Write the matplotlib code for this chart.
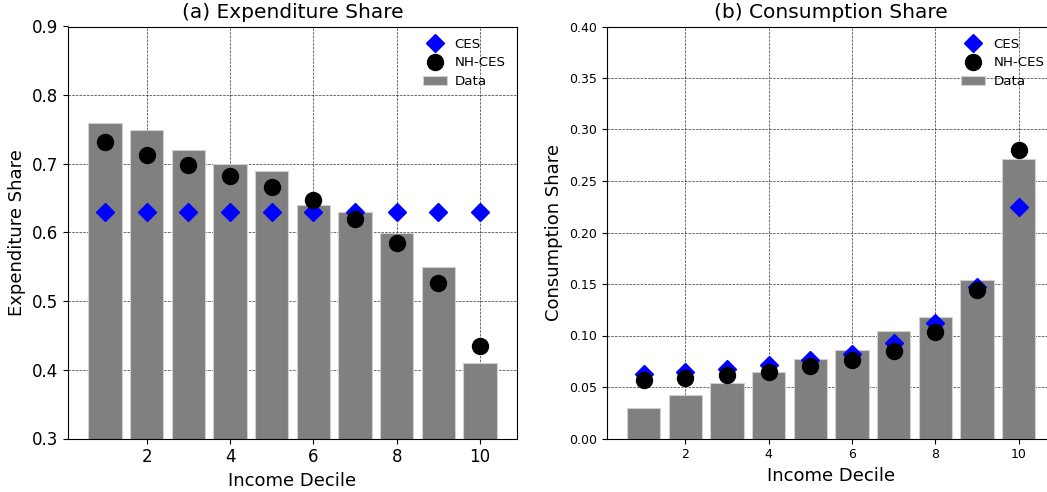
import matplotlib
matplotlib.use("Agg")
import matplotlib.pyplot as plt
import numpy as np

deciles = [1, 2, 3, 4, 5, 6, 7, 8, 9, 10]

# (a) Expenditure share
exp_data = [0.76, 0.75, 0.72, 0.70, 0.69, 0.64, 0.63, 0.60, 0.55, 0.41]
exp_ces = [0.63, 0.63, 0.63, 0.63, 0.63, 0.63, 0.63, 0.63, 0.63, 0.63]
exp_nhces = [0.732, 0.713, 0.698, 0.683, 0.666, 0.647, 0.620, 0.584, 0.527, 0.435]

# (b) Consumption share
cons_data = [0.030, 0.042, 0.054, 0.065, 0.077, 0.086, 0.104, 0.118, 0.154, 0.271]
cons_ces = [0.063, 0.065, 0.067, 0.071, 0.076, 0.082, 0.093, 0.112, 0.147, 0.225]
cons_nhces = [0.057, 0.059, 0.062, 0.065, 0.070, 0.076, 0.085, 0.103, 0.144, 0.280]

fig = plt.figure(figsize=(10.47, 4.92), dpi=100)
W, H = 1047, 492
axL = fig.add_axes([68/W, (H-438.5)/H, 449/W, 412/H])
axR = fig.add_axes([606.7/W, (H-438.5)/H, 449/W, 412/H])

def draw(ax, data, ces, nh, tick_fs, legend_fs):
    ax.set_axisbelow(True)
    ax.grid(True, color='k', linestyle='--', linewidth=0.5, alpha=0.8)
    ax.bar(deciles, data, width=0.8, color='#808080', edgecolor='#d0d0d0',
           linewidth=0.8, label='Data', zorder=2)
    ax.plot(deciles, ces, linestyle='none', marker='D', color='blue',
            markersize=9.5, label='CES', zorder=3)
    ax.plot(deciles, nh, linestyle='none', marker='o', color='black',
            markersize=11.5, label='NH-CES', zorder=4)
    ax.set_xticks([2, 4, 6, 8, 10])
    ax.tick_params(labelsize=tick_fs)
    ax.set_xlabel('Income Decile', fontsize=13)
    ax.legend(loc='upper right', frameon=False, fontsize=legend_fs,
              labelspacing=0.42, handlelength=1.8, handletextpad=0.6,
              borderaxespad=0.45)

draw(axL, exp_data, exp_ces, exp_nhces, 12, 9.6)
axL.set_ylim(0.3, 0.9)
axL.set_title('(a) Expenditure Share', fontsize=14.5)
axL.set_ylabel('Expenditure Share', fontsize=13)

draw(axR, cons_data, cons_ces, cons_nhces, 9, 9.6)
axR.set_ylim(0.0, 0.4)
axR.set_yticks(np.arange(0, 0.401, 0.05))
axR.set_title('(b) Consumption Share', fontsize=14.5)
axR.set_ylabel('Consumption Share', fontsize=13)

fig.savefig('out.png', dpi=100)
